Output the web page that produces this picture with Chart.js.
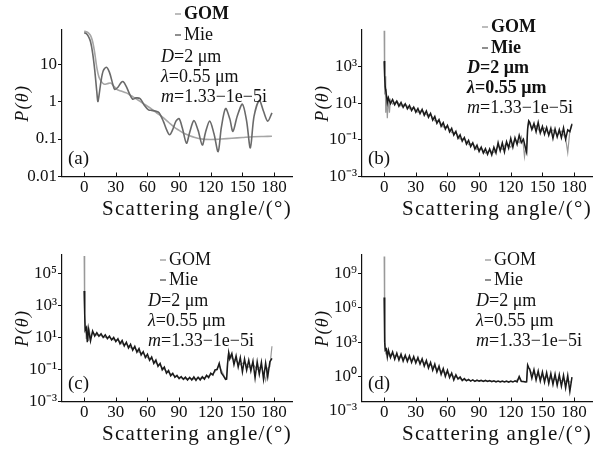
<!DOCTYPE html>
<html>
<head>
<meta charset="utf-8">
<script src="https://cdn.jsdelivr.net/npm/chart.js@4.4.1/dist/chart.umd.min.js"></script>
<style>
    html, body { margin: 0; padding: 0; background: #fff; }
    #grid { position: relative; width: 602px; height: 450px; }
    .panel { position: absolute; width: 300px; height: 225px; }
</style>
</head>
<body>
<div id="grid">
    <div class="panel" style="left:0;top:0"><canvas id="chartA" width="300" height="225"></canvas></div>
    <div class="panel" style="left:300px;top:0"><canvas id="chartB" width="300" height="225"></canvas></div>
    <div class="panel" style="left:0;top:225px"><canvas id="chartC" width="300" height="225"></canvas></div>
    <div class="panel" style="left:300px;top:225px"><canvas id="chartD" width="300" height="225"></canvas></div>
</div>
<script>
const serif = "'Liberation Serif', 'Times New Roman', serif";

const seriesNames = ['GOM', 'Mie'];
const paramLines = [['D', '=2 μm'], ['λ', '=0.55 μm'], ['m', '=1.33−1e−5i']];
const xTicks = [0, 30, 60, 90, 120, 150, 180];

// panel (a)
const gomAnglesA = [0, 2, 4, 6, 8, 10, 12, 14, 16, 19, 22, 25, 28, 31, 35, 40, 45, 50, 55, 60,
    65, 70, 75, 80, 85, 90, 95, 100, 105, 110, 115, 120, 125, 130, 140, 150, 160, 170, 178];
const gomValuesA = [75, 73, 68, 58, 40, 20, 8, 4.5, 3.5, 2.9, 3.0, 3.1, 2.6, 2.1, 1.9, 1.7, 1.4, 1.15, 0.92, 0.75,
    0.6, 0.47, 0.37, 0.28, 0.21, 0.17, 0.14, 0.122, 0.11, 0.102, 0.098, 0.097, 0.098, 0.1, 0.105, 0.11, 0.115, 0.117, 0.118];
const mieAnglesA = [0, 2, 4, 6, 8, 10, 12, 13, 14, 16, 18, 21, 24, 27, 29, 32, 35, 37, 40, 43,
    46, 49, 53, 57, 61, 64, 68, 71, 75, 78, 81, 84, 87, 90, 93, 97, 100, 104, 108, 112,
    115, 119, 123, 127, 130, 134, 138, 141, 145, 150, 154, 157.5, 161, 166, 170, 174, 178];
const mieValuesA = [68, 65, 55, 40, 20, 7, 1.8, 1.0, 1.4, 3.5, 6.5, 8.2, 6, 3, 2.1, 2.4, 3.2, 3.4, 2.5, 1.6,
    1.15, 1.25, 1.2, 0.8, 0.6, 0.58, 0.55, 0.5, 0.3, 0.18, 0.13, 0.18, 0.3, 0.35, 0.2, 0.077, 0.15, 0.31, 0.17, 0.069,
    0.15, 0.3, 0.14, 0.046, 0.2, 0.65, 0.35, 0.16, 0.4, 0.85, 0.3, 0.058, 0.4, 1.07, 0.55, 0.3, 0.5];
const yTicksA = [0.01, 0.1, 1, 10];
const yLabelsA = ['0.01', '0.1', '1', '10'];

// panels (b)-(d): Mie on a dense angle grid, GOM on a coarser one
const denseAngles = [0, 0.5, 1, 2, 3,
    4, 6, 8, 10, 12, 14, 16, 18, 20, 22,
    24, 26, 28, 30, 32, 34, 36, 38, 40, 42,
    44, 46, 48, 50, 52, 54, 56, 58, 60, 62,
    64, 66, 68, 70, 72, 74, 76, 78, 80, 82,
    84, 86, 88, 90, 92, 94, 96, 98, 100, 102,
    104, 106, 108, 110, 112, 114, 116, 118, 120, 122,
    124, 126, 128, 130, 132, 134,
    135, 136, 137,
    138, 140, 142, 144, 146, 148, 150, 152, 154, 156, 158, 160, 162, 164, 166, 168, 170, 172, 174, 176, 178];
const sparseAngles = [0, 0.5, 1, 1.5, 2, 3, 4, 5, 6,
    8, 12, 16, 20, 24, 28, 32, 36, 40, 44, 48, 52, 56, 60, 64, 68, 72, 76, 80, 84, 88,
    92, 96, 100, 104, 108, 112, 116, 120, 124, 128,
    130, 132, 133, 134, 135, 136, 137,
    140, 144, 148, 152, 156, 160, 164, 168, 172,
    174, 176, 178];

// panel (b)
const mieValuesB = [2000, 300, 80, 32, 11,
    20, 9.5, 16, 8.3, 13, 6.9, 11, 5.9, 9.3, 4.9,
    7.6, 4.0, 6.2, 3.2, 5.2, 2.7, 4.6, 2.2, 3.8, 1.7,
    2.8, 1.2, 1.9, 0.79, 1.26, 0.55, 0.87, 0.39, 0.62, 0.27,
    0.43, 0.18, 0.29, 0.12, 0.19, 0.085, 0.135, 0.059, 0.095, 0.043,
    0.069, 0.031, 0.051, 0.023, 0.04, 0.019, 0.033, 0.016, 0.032, 0.015,
    0.04, 0.019, 0.07, 0.025, 0.068, 0.022, 0.079, 0.035, 0.12, 0.04,
    0.13, 0.056, 0.18, 0.071, 0.11, 0.035,
    0.022, 0.4, 1.1,
    0.9, 0.37, 0.79, 0.28, 0.9, 0.24, 0.55, 0.2, 0.48, 0.18, 0.43, 0.12, 0.4, 0.145, 0.36, 0.13, 0.45, 0.11, 0.35, 0.28, 0.72];
const gomValuesB = [9e4, 30, 300, 3, 60, 1.5, 25, 3, 15,
    9, 13, 7, 9, 5, 6, 3.2, 4.2, 2.3, 2.5, 1.1, 1.15, 0.5, 0.56, 0.25, 0.26, 0.11, 0.12, 0.055, 0.065,
    0.03, 0.036, 0.019, 0.027, 0.02, 0.045, 0.03, 0.07, 0.04, 0.11, 0.07,
    0.15, 0.05, 0.012, 0.03, 0.02, 0.5, 1.0,
    0.4, 0.6, 0.25, 0.45, 0.2, 0.35, 0.18, 0.3, 0.12,
    0.02, 0.3, 0.8];
const yTicksB = [1e-3, 1e-1, 1e1, 1e3];
const yLabelsB = ['10⁻³', '10⁻¹', '10¹', '10³'];

// panel (c)
const mieValuesC = [8000, 300, 30, 40, 5,
    35, 6, 25, 12, 20, 12, 17, 10, 14.5, 8.3,
    12, 6.9, 10, 5.5, 8.3, 4.0, 6.5, 2.9, 5.0, 2.2,
    3.7, 1.6, 2.8, 1.2, 2.0, 0.8, 1.3, 0.55, 0.9, 0.37,
    0.6, 0.24, 0.39, 0.155, 0.24, 0.095, 0.14, 0.058, 0.085, 0.04,
    0.058, 0.032, 0.042, 0.027, 0.036, 0.024, 0.033, 0.022, 0.032, 0.022,
    0.034, 0.021, 0.033, 0.022, 0.035, 0.025, 0.043, 0.031, 0.058, 0.045,
    0.095, 0.1, 0.24, 0.06, 0.04, 0.024,
    0.025, 0.25, 1.1,
    0.45, 1.0, 0.2, 0.7, 0.14, 0.55, 0.07, 0.45, 0.09, 0.38, 0.08, 0.33, 0.03, 0.3, 0.05, 0.28, 0.025, 0.25, 0.035, 0.3, 0.5];
const gomValuesC = [1.2e6, 100, 20, 40, 8, 30, 6, 25, 10,
    20, 14, 13, 10, 10, 7, 7, 4, 3.8, 2.3, 2.1, 1.2, 1.0, 0.55, 0.45, 0.25, 0.18, 0.1, 0.065, 0.045,
    0.035, 0.03, 0.026, 0.028, 0.025, 0.03, 0.028, 0.035, 0.045, 0.07, 0.18,
    0.09, 0.05, 0.035, 0.03, 0.028, 0.4, 1.2,
    0.5, 0.35, 0.2, 0.28, 0.14, 0.2, 0.1, 0.16, 0.02,
    0.12, 0.15, 2.8];
const yTicksC = [1e-3, 1e-1, 1e1, 1e3, 1e5];
const yLabelsC = ['10⁻³', '10⁻¹', '10¹', '10³', '10⁵'];

// panel (d)
const mieValuesD = [8e6, 1000, 200, 250, 50,
    200, 45, 140, 32, 110, 27, 90, 22, 70, 20,
    65, 17, 55, 15, 45, 12, 35, 8, 25, 5.5,
    17, 3.5, 12, 2.5, 8, 1.5, 5, 1.0, 3.5, 0.8,
    2.0, 0.5, 1.4, 0.6, 0.9, 0.45, 0.65, 0.42, 0.55, 0.4,
    0.5, 0.38, 0.48, 0.4, 0.47, 0.38, 0.46, 0.37, 0.45, 0.36,
    0.42, 0.34, 0.4, 0.33, 0.4, 0.33, 0.4, 0.32, 0.4, 0.33,
    0.42, 0.34, 1.0, 0.38, 0.36, 0.33,
    0.34, 10, 6,
    4.5, 0.7, 4, 0.5, 3, 0.4, 2.5, 0.32, 2.2, 0.25, 1.8, 0.2, 1.6, 0.17, 1.4, 0.14, 1.3, 0.1, 1.2, 0.05, 0.9];
const gomValuesD = [3e10, 1e4, 300, 120, 150, 80, 120, 60, 90,
    80, 60, 45, 45, 35, 30, 25, 20, 14, 10, 6, 4, 2.5, 2.0, 1.2, 0.9, 0.6, 0.5, 0.45, 0.45,
    0.42, 0.42, 0.4, 0.4, 0.38, 0.37, 0.36, 0.36, 0.36, 0.37, 0.7,
    0.36, 0.35, 0.35, 0.35, 0.35, 8, 5,
    2, 1.5, 1.0, 0.9, 0.7, 0.6, 0.5, 0.45, 0.4,
    0.35, 0.35, 0.3];
const yTicksD = [1e-3, 1e0, 1e3, 1e6, 1e9];
const yLabelsD = ['10⁻³', '10⁰', '10³', '10⁶', '10⁹'];

Chart.defaults.font.family = serif;
Chart.defaults.color = '#111';

function seriesData(angles, values) {
    return angles.map((x, i) => ({ x: x, y: values[i] }));
}

// titles get a little letter spacing, tick labels (z: 1) are drawn after it is reset
const spacingPlugin = {
    id: 'spacing',
    beforeDraw(chart) {
        chart.ctx.letterSpacing = '1.3px';
    },
    beforeDatasetsDraw(chart) {
        chart.ctx.letterSpacing = '0px';
    }
};

const notesPlugin = {
    id: 'notes',
    afterDraw(chart, args, opts) {
        const ctx = chart.ctx;
        const area = chart.chartArea;
        const xScale = chart.scales.x;
        ctx.save();
        ctx.letterSpacing = '0px';

        // inward tick marks on the angle axis
        ctx.strokeStyle = '#111';
        ctx.lineWidth = 1;
        ctx.beginPath();
        xTicks.forEach(v => {
            const px = Math.round(xScale.getPixelForValue(v)) + 0.5;
            ctx.moveTo(px, area.bottom);
            ctx.lineTo(px, area.bottom - 4);
        });
        ctx.stroke();

        ctx.textBaseline = 'middle';
        ctx.textAlign = 'left';

        // legend
        seriesNames.forEach((name, i) => {
            const y = opts.legendY[i];
            ctx.strokeStyle = opts.colors[i];
            ctx.lineWidth = 1.5;
            ctx.beginPath();
            ctx.moveTo(opts.dashX, y);
            ctx.lineTo(opts.dashX + 6, y);
            ctx.stroke();
            ctx.fillStyle = '#111';
            ctx.font = (opts.legendBold[i] ? 'bold ' : '') + '18px ' + serif;
            ctx.fillText(name, opts.dashX + 9, y);
        });

        // parameters, first symbol in italics
        paramLines.forEach((parts, i) => {
            const y = opts.lineY[i];
            const weight = opts.lineBold[i] ? 'bold ' : '';
            let px = opts.textX;
            ctx.font = 'italic ' + weight + '18px ' + serif;
            ctx.fillText(parts[0], px, y);
            px += ctx.measureText(parts[0]).width;
            ctx.font = weight + '18px ' + serif;
            ctx.fillText(parts[1], px, y);
        });

        ctx.font = '19px ' + serif;
        ctx.fillText(opts.tag, area.left + 6, 159);
        ctx.restore();
    }
};

function buildPanel(canvasId, panel) {
    const ctx = document.getElementById(canvasId).getContext('2d');

    return new Chart(ctx, {
        type: 'line',
        data: {
            datasets: [{
                label: 'Mie',
                data: seriesData(panel.mieAngles, panel.mieValues),
                borderColor: panel.colors[1],
                borderWidth: panel.mieWidth,
                pointRadius: 0,
                tension: panel.tension,
                order: 0
            },
            {
                label: 'GOM',
                data: seriesData(panel.gomAngles, panel.gomValues),
                borderColor: panel.colors[0],
                borderWidth: panel.gomWidth,
                pointRadius: 0,
                tension: panel.tension,
                order: 1
            }]
        },
        options: {
            responsive: false,
            animation: false,
            layout: {
                padding: { top: 30, right: 8, bottom: 0, left: 0 }
            },
            plugins: {
                legend: { display: false },
                tooltip: { enabled: false },
                notes: panel.notes
            },
            scales: {
                x: {
                    type: 'linear',
                    min: -21,
                    max: 197,
                    bounds: 'data',
                    afterBuildTicks: s => { s.ticks = xTicks.map(v => ({ value: v })); },
                    afterFit: s => { s.height = 48.5; },
                    ticks: { font: { size: 17 }, padding: 1, maxRotation: 0, autoSkip: false, z: 1, color: '#111' },
                    grid: { display: false, drawTicks: false },
                    border: { color: '#111', width: 1.2 },
                    title: {
                        display: true,
                        text: 'Scattering angle/(°)',
                        align: 'end',
                        font: { size: 21 },
                        color: '#111',
                        padding: { top: 0, bottom: 3 }
                    }
                },
                y: {
                    type: 'logarithmic',
                    min: panel.yMin,
                    max: panel.yMax,
                    bounds: 'data',
                    afterBuildTicks: s => { s.ticks = panel.yTicks.map(v => ({ value: v })); },
                    afterFit: s => { s.width = 62; },
                    ticks: {
                        callback: (v, i) => panel.yLabels[i],
                        font: { size: 17 },
                        padding: 1,
                        autoSkip: false,
                        z: 1,
                        color: '#111'
                    },
                    grid: {
                        drawOnChartArea: false,
                        tickLength: 4,
                        color: c => (c.tick && c.tick.value < panel.yMin) ? 'rgba(0,0,0,0)' : '#111'
                    },
                    border: { color: '#111', width: 1.2 },
                    title: {
                        display: true,
                        text: 'P(θ)',
                        font: { size: 18, style: 'italic' },
                        color: '#111',
                        padding: { top: 12, bottom: 0 }
                    }
                }
            }
        },
        plugins: [spacingPlugin, notesPlugin]
    });
}

const lightGray = '#a6a6a6';
const midGray = '#6a6a6a';
const nearBlack = '#1a1a1a';

buildPanel('chartA', {
    gomAngles: gomAnglesA, gomValues: gomValuesA,
    mieAngles: mieAnglesA, mieValues: mieValuesA,
    colors: [lightGray, midGray], gomWidth: 1.6, mieWidth: 1.6, tension: 0.3,
    yMin: 0.01, yMax: 81, yTicks: yTicksA, yLabels: yLabelsA,
    notes: {
        tag: '(a)', colors: [lightGray, midGray],
        dashX: 175, legendY: [14, 35], legendBold: [true, false],
        textX: 161, lineY: [57, 77, 97], lineBold: [false, false, false]
    }
});

buildPanel('chartB', {
    gomAngles: sparseAngles, gomValues: gomValuesB,
    mieAngles: denseAngles, mieValues: mieValuesB,
    colors: ['#999999', nearBlack], gomWidth: 1.2, mieWidth: 1.5, tension: 0,
    yMin: 1e-3, yMax: 1e5, yTicks: yTicksB, yLabels: yLabelsB,
    notes: {
        tag: '(b)', colors: [lightGray, midGray],
        dashX: 182, legendY: [27, 48], legendBold: [true, true],
        textX: 167, lineY: [68, 88, 108], lineBold: [true, true, false]
    }
});

buildPanel('chartC', {
    gomAngles: sparseAngles, gomValues: gomValuesC,
    mieAngles: denseAngles, mieValues: mieValuesC,
    colors: ['#999999', nearBlack], gomWidth: 1.2, mieWidth: 1.5, tension: 0,
    yMin: 1e-3, yMax: 1.4e6, yTicks: yTicksC, yLabels: yLabelsC,
    notes: {
        tag: '(c)', colors: [lightGray, midGray],
        dashX: 160, legendY: [35, 55], legendBold: [false, false],
        textX: 148, lineY: [76, 96, 116], lineBold: [false, false, false]
    }
});

buildPanel('chartD', {
    gomAngles: sparseAngles, gomValues: gomValuesD,
    mieAngles: denseAngles, mieValues: mieValuesD,
    colors: ['#999999', nearBlack], gomWidth: 1.2, mieWidth: 1.5, tension: 0,
    yMin: 6.6e-3, yMax: 4e10, yTicks: yTicksD, yLabels: yLabelsD,
    notes: {
        tag: '(d)', colors: [lightGray, midGray],
        dashX: 185, legendY: [35, 55], legendBold: [false, false],
        textX: 176, lineY: [76, 96, 116], lineBold: [false, false, false]
    }
});
</script>
</body>
</html>
